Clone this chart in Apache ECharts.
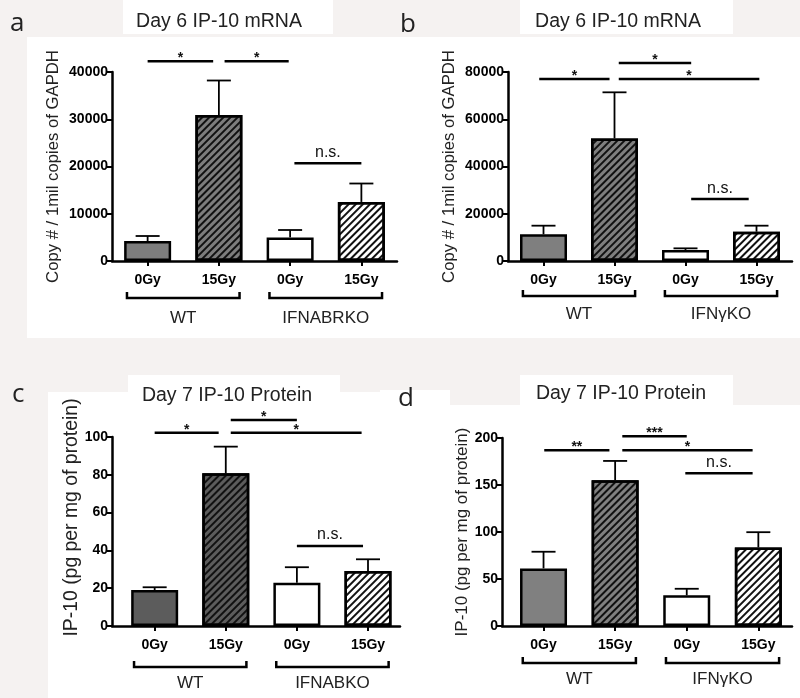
<!DOCTYPE html>
<html><head><meta charset="utf-8">
<script src="https://cdn.jsdelivr.net/npm/echarts@6/dist/echarts.min.js"></script>
<style>html,body{margin:0;padding:0;background:#f5f2f1}#c{width:800px;height:698px}</style>
</head><body><div id="c"></div>
<script>
// ---------- data ----------
const doseLabels = ['0Gy', '15Gy', '0Gy', '15Gy'];
const groupsA = ['WT', 'IFNABRKO'];
const groupsB = ['WT', 'IFNγKO'];
const groupsC = ['WT', 'IFNABKO'];
const groupsD = ['WT', 'IFNγKO'];
const titleA = 'Day 6 IP-10 mRNA';
const titleB = 'Day 6 IP-10 mRNA';
const titleC = 'Day 7 IP-10 Protein';
const titleD = 'Day 7 IP-10 Protein';
const yNameMRNA = 'Copy # / 1mil copies of GAPDH';
const yNameProt = 'IP-10 (pg per mg of protein)';
const meanA = [4230, 30900, 5000, 12500];
const semA = [1060, 7300, 1560, 3900];
const meanB = [11300, 51900, 4650, 12400];
const semB = [3650, 19500, 710, 2550];
const meanC = [19.0, 80.8, 22.9, 29.1];
const semC = [1.5, 14.1, 8.2, 6.2];
const meanD = [61.3, 155, 32.6, 83.6];
const semD = [17.7, 20.6, 7.0, 16.2];
// significance bars: [from category, to category, height (data units), label]
const sigA = [[0, 0.92, 42300, '*'], [1.08, 1.98, 42300, '*'], [2.06, 3.0, 20700, 'n.s.']];
const sigB = [[-0.06, 0.93, 77000, '*'], [1.06, 2.08, 83800, '*'], [1.06, 3.04, 77000, '*'], [2.08, 2.89, 26200, 'n.s.']];
const sigC = [[0, 0.9, 102.3, '*'], [1.07, 2.0, 109, '*'], [1.07, 2.91, 102.3, '*'], [2.0, 2.93, 42.3, 'n.s.']];
const sigD = [[0.01, 0.92, 187, '**'], [1.1, 2.0, 201.8, '***'], [1.1, 2.92, 187, '*'], [1.98, 2.92, 162.5, 'n.s.']];
const yMaxA = 40000, yStepA = 10000;
const yMaxB = 80000, yStepB = 20000;
const yMaxC = 100, yStepC = 20;
const yMaxD = 200, yStepD = 50;

// ---------- layout / style ----------
const FONT = '"Liberation Sans", Arial, sans-serif';
const panels = [
  {title: titleA, tx: 219, ty: 22, grid: {left: 112, top: 72, width: 285, height: 189}, xMin: -0.5, xMax: 3.5,
   yMax: yMaxA, yStep: yStepA, yName: yNameMRNA, nameGap: 50, nameSize: 16.7, namePad: 0, fill: '#7d7d7d',
   mean: meanA, sem: semA, sig: sigA, groups: groupsA, brY: 37, lbY: 57},
  {title: titleB, tx: 618, ty: 22, grid: {left: 508, top: 72, width: 284, height: 189}, xMin: -0.5, xMax: 3.5,
   yMax: yMaxB, yStep: yStepB, yName: yNameMRNA, nameGap: 50, nameSize: 16.7, namePad: 0, fill: '#7f7f7f',
   mean: meanB, sem: semB, sig: sigB, groups: groupsB, brY: 35, lbY: 53},
  {title: titleC, tx: 227, ty: 396, grid: {left: 112, top: 437, width: 288, height: 189}, xMin: -0.6, xMax: 3.45,
   yMax: yMaxC, yStep: yStepC, yName: yNameProt, nameGap: 29, nameSize: 19.4, namePad: 28, fill: '#5c5c5c',
   mean: meanC, sem: semC, sig: sigC, groups: groupsC, brY: 41, lbY: 57},
  {title: titleD, tx: 621, ty: 394, grid: {left: 502, top: 438, width: 290, height: 188}, xMin: -0.58, xMax: 3.47,
   yMax: yMaxD, yStep: yStepD, yName: yNameProt, nameGap: 29, nameSize: 17, namePad: 0, fill: '#808080',
   mean: meanD, sem: semD, sig: sigD, groups: groupsD, brY: 37, lbY: 53}
];

const hatch = {symbol: 'rect', symbolSize: 1, dashArrayX: [1, 0], dashArrayY: [2, 3], rotation: -Math.PI / 4, color: '#111'};

const option = {
  backgroundColor: '#f5f2f1',
  animation: false,
  grid: [], xAxis: [], yAxis: [], series: [],
  graphic: []
};

// background white panels (decoration)
const boxes = [
  [27, 37, 373, 301], [400, 37, 400, 301], [123, 0, 210, 34], [520, 0, 213, 34],
  [48, 392, 352, 306], [128, 375, 212, 30], [380, 405, 420, 293], [380, 390, 70, 20], [520, 375, 213, 30]
];
boxes.forEach(b => option.graphic.push({type: 'rect', z: -10, silent: true,
  shape: {x: b[0], y: b[1], width: b[2], height: b[3]}, style: {fill: '#ffffff'}}));
const letters = [['a', 10, 24], ['b', 400, 25], ['c', 12, 395], ['d', 398, 399]];
letters.forEach(l => option.graphic.push({type: 'text', z: 10, x: l[1], y: l[2],
  style: {text: l[0], font: '26px "Open Sans", sans-serif', fill: '#222', textVerticalAlign: 'middle', verticalAlign: 'middle'}}));

panels.forEach((p, i) => {
  option.graphic.push({type: 'text', z: 10, x: p.tx, y: p.ty,
    style: {text: p.title, font: '19.5px ' + FONT, fill: '#222',
      textAlign: 'center', align: 'center', textVerticalAlign: 'middle', verticalAlign: 'middle'}});
  option.grid.push(p.grid);
  option.xAxis.push({type: 'value', gridIndex: i, min: p.xMin, max: p.xMax,
    axisLine: {show: true, onZero: false, lineStyle: {color: '#000', width: 2.5}},
    axisTick: {show: true, customValues: [0, 1, 2, 3], length: 5, lineStyle: {color: '#000', width: 2}},
    axisLabel: {show: true, customValues: [0, 1, 2, 3], margin: 12, formatter: v => doseLabels[Math.round(v)],
      fontFamily: FONT, fontWeight: 'bold', fontSize: 14, color: '#000'},
    splitLine: {show: false}});
  option.yAxis.push({type: 'value', gridIndex: i, min: 0, max: p.yMax, interval: p.yStep,
    name: p.yName, nameLocation: 'middle', nameRotate: 90, nameGap: p.nameGap,
    nameTextStyle: {fontFamily: FONT, fontSize: p.nameSize, color: '#222', padding: [0, 0, 0, p.namePad]},
    axisLine: {show: true, onZero: false, lineStyle: {color: '#000', width: 2.5}},
    axisTick: {show: true, length: 5, lineStyle: {color: '#000', width: 2}},
    axisLabel: {margin: 4, fontFamily: FONT, fontWeight: 'bold', fontSize: 14, color: '#000', formatter: v => String(v)},
    splitLine: {show: false}});
  const fills = [p.fill, p.fill, '#ffffff', '#ffffff'];
  option.series.push({type: 'bar', xAxisIndex: i, yAxisIndex: i, barWidth: 47, z: 2,
    data: p.mean.map((v, k) => ({value: [k, v], itemStyle: {color: fills[k], decal: (k % 2 === 1) ? hatch : null}})),
    itemStyle: {borderColor: '#000', borderWidth: 2.5}});
  // error bars (upper only)
  option.series.push({type: 'custom', xAxisIndex: i, yAxisIndex: i, z: 1, clip: false,
    data: p.mean.map((v, k) => [k, v, v + p.sem[k]]),
    encode: {x: 0, y: [1, 2]},
    renderItem: (params, api) => {
      const a = api.coord([api.value(0), api.value(1)]);
      const b = api.coord([api.value(0), api.value(2)]);
      return {type: 'group', children: [
        {type: 'line', shape: {x1: a[0], y1: a[1], x2: b[0], y2: b[1]}, style: {stroke: '#000', lineWidth: 1.8}},
        {type: 'line', shape: {x1: b[0] - 12, y1: b[1], x2: b[0] + 12, y2: b[1]}, style: {stroke: '#000', lineWidth: 1.8}}
      ]};
    }});
  // significance bars
  option.series.push({type: 'custom', xAxisIndex: i, yAxisIndex: i, z: 4, clip: false,
    data: p.sig.map(s => [s[0], s[1], s[2]]),
    encode: {x: [0, 1], y: 2},
    renderItem: (params, api) => {
      const a = api.coord([api.value(0), api.value(2)]);
      const b = api.coord([api.value(1), api.value(2)]);
      const lab = p.sig[params.dataIndex][3];
      const ns = lab === 'n.s.';
      return {type: 'group', children: [
        {type: 'line', shape: {x1: a[0], y1: a[1], x2: b[0], y2: b[1]}, style: {stroke: '#000', lineWidth: 2.5}},
        {type: 'text', x: (a[0] + b[0]) / 2, y: a[1] - (ns ? 3 : -4),
          style: {text: lab, font: (ns ? '16px ' : 'bold 14px ') + FONT, fill: '#111',
            textAlign: 'center', align: 'center', textVerticalAlign: 'bottom', verticalAlign: 'bottom'}}
      ]};
    }});
  // group brackets and labels
  option.series.push({type: 'custom', xAxisIndex: i, yAxisIndex: i, z: 4, clip: false,
    data: p.groups.map((g, k) => [0.5 + 2 * k, 0]),
    encode: {x: 0, y: 1},
    renderItem: (params, api) => {
      const c = api.coord([api.value(0), 0]);
      const lo = api.coord([api.value(0) - 0.79, 0]);
      const hi = api.coord([api.value(0) + 0.79, 0]);
      const yb = c[1] + p.brY;
      return {type: 'group', children: [
        {type: 'polyline', shape: {points: [[lo[0], yb - 6], [lo[0], yb], [hi[0], yb], [hi[0], yb - 6]]},
          style: {stroke: '#000', fill: null, lineWidth: 2.5}},
        {type: 'text', x: c[0], y: c[1] + p.lbY,
          style: {text: p.groups[params.dataIndex], font: '17px ' + FONT, fill: '#222',
            textAlign: 'center', align: 'center', textVerticalAlign: 'middle', verticalAlign: 'middle'}}
      ]};
    }});
});

const chart = echarts.init(document.getElementById('c'), null, {renderer: 'canvas'});
chart.setOption(option);
</script>
</body></html>
